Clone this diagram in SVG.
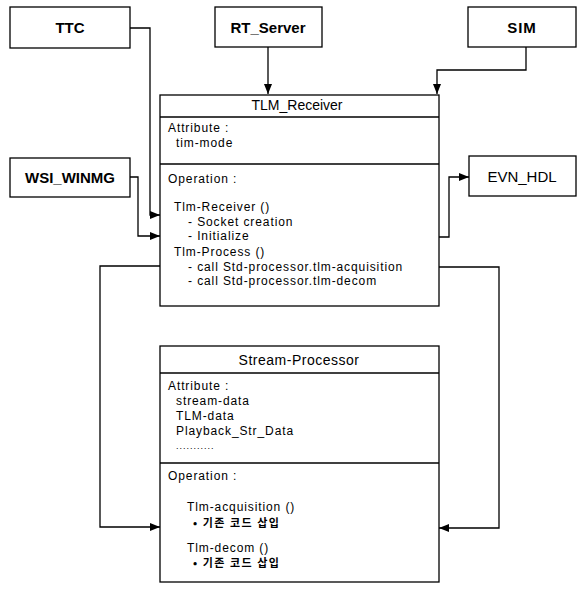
<svg xmlns="http://www.w3.org/2000/svg" width="585" height="593" viewBox="0 0 585 593">
<defs>
<style>
.box{fill:#fff;stroke:#000;stroke-width:1.3}
.ln{fill:none;stroke:#000;stroke-width:1.3}
.lbl{font-family:"Liberation Sans",Arial,sans-serif;font-size:15px;font-weight:bold;text-anchor:middle;fill:#000}
.ttl{font-family:"Liberation Sans",Arial,sans-serif;font-size:14px;text-anchor:middle;fill:#000}
.t{font-family:"Liberation Sans",Arial,"Noto Sans CJK KR",sans-serif;font-size:12px;letter-spacing:0.9px;fill:#000}
.k{font-family:"Noto Sans CJK KR",sans-serif;font-size:11px;font-weight:bold;letter-spacing:1.5px;fill:#000}
</style>
<marker id="ah" viewBox="0 0 10 8" refX="10" refY="4" markerWidth="10" markerHeight="8" markerUnits="userSpaceOnUse" orient="auto">
<path d="M0,0 L10,4 L0,8 z" fill="#000"/>
</marker>
</defs>

<g id="connectors">
<path class="ln" d="M130,28 H150 V215 H160" marker-end="url(#ah)"/>
<path class="ln" d="M268,47 V94" marker-end="url(#ah)"/>
<path class="ln" d="M526,47 V70 H437 V94" marker-end="url(#ah)"/>
<path class="ln" d="M130,177 H138 V236 H160" marker-end="url(#ah)"/>
<path class="ln" d="M439,237 H449 V177 H469" marker-end="url(#ah)"/>
<path class="ln" d="M160,266 H100 V527 H160" marker-end="url(#ah)"/>
<path class="ln" d="M439,267 H499 V528 H439" marker-end="url(#ah)"/>
</g>

<g id="TTC">
<rect class="box" x="10" y="7" width="120" height="41"/>
<text class="lbl" x="70" y="33">TTC</text>
</g>
<g id="RT_Server">
<rect class="box" x="215" y="7" width="107" height="40"/>
<text class="lbl" x="268" y="33">RT_Server</text>
</g>
<g id="SIM">
<rect class="box" x="468" y="7" width="108" height="40"/>
<text class="lbl" x="522" y="33" style="letter-spacing:1px">SIM</text>
</g>
<g id="WSI_WINMG">
<rect class="box" x="10" y="158" width="120" height="39"/>
<text class="lbl" x="70" y="183">WSI_WINMG</text>
</g>
<g id="EVN_HDL">
<rect class="box" x="469" y="156" width="107" height="40"/>
<text class="lbl" x="522" y="182" style="font-weight:normal">EVN_HDL</text>
</g>

<g id="TLM_Receiver">
<rect class="box" x="160" y="95" width="279" height="211"/>
<line class="ln" x1="160" y1="117" x2="439" y2="117"/>
<line class="ln" x1="160" y1="164" x2="439" y2="164"/>
<text class="ttl" x="297" y="110">TLM_Receiver</text>
<text class="t" x="168" y="132">Attribute :</text>
<text class="t" x="176" y="147">tim-mode</text>
<text class="t" x="168" y="183">Operation :</text>
<text class="t" x="174" y="211">Tlm-Receiver ()</text>
<text class="t" x="188" y="226">- Socket creation</text>
<text class="t" x="188" y="240">- Initialize</text>
<text class="t" x="174" y="256">Tlm-Process ()</text>
<text class="t" x="188" y="271">- call Std-processor.tlm-acquisition</text>
<text class="t" x="188" y="285">- call Std-processor.tlm-decom</text>
</g>

<g id="Stream-Processor">
<rect class="box" x="160" y="346" width="279" height="236"/>
<line class="ln" x1="160" y1="373" x2="439" y2="373"/>
<line class="ln" x1="160" y1="463" x2="439" y2="463"/>
<text class="ttl" x="299" y="365" style="letter-spacing:0.5px">Stream-Processor</text>
<text class="t" x="168" y="390">Attribute :</text>
<text class="t" x="176" y="405">stream-data</text>
<text class="t" x="176" y="420">TLM-data</text>
<text class="t" x="176" y="435">Playback_Str_Data</text>
<text class="t" x="176" y="449" style="font-size:9px;letter-spacing:1px">...........</text>
<text class="t" x="168" y="480">Operation :</text>
<text class="t" x="187" y="511">Tlm-acquisition ()</text>
<text class="k" x="193" y="527">• 기존 코드 삽입</text>
<text class="t" x="187" y="552">Tlm-decom ()</text>
<text class="k" x="193" y="567">• 기존 코드 삽입</text>
</g>
</svg>
